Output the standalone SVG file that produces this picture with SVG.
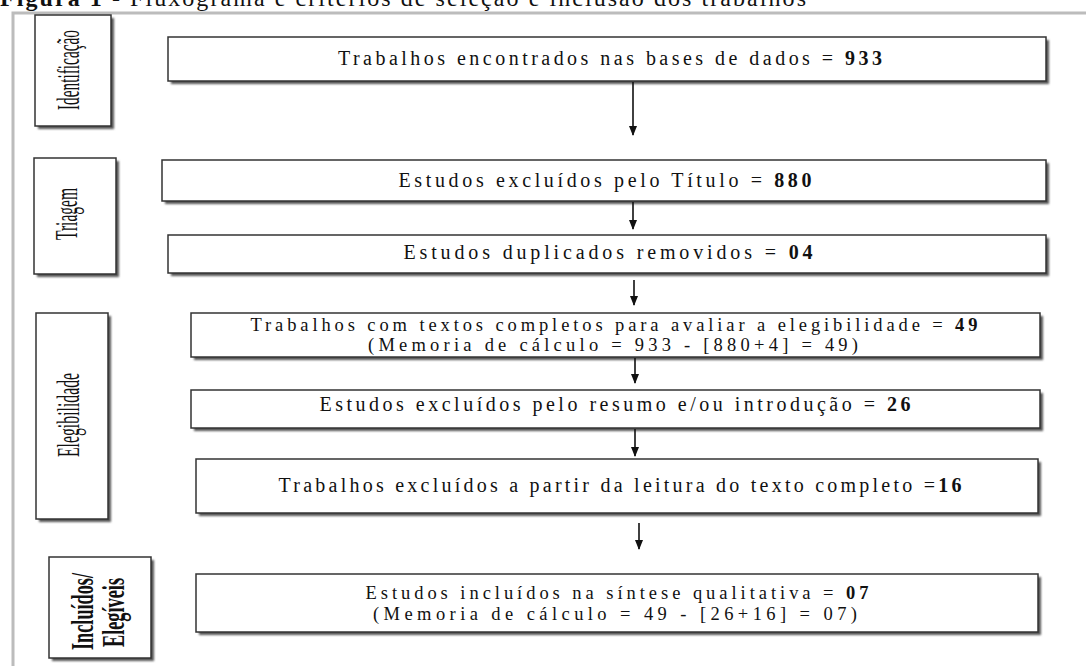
<svg xmlns="http://www.w3.org/2000/svg" width="1086" height="666" viewBox="0 0 1086 666">
<defs>
<style>
.box{fill:#fff;stroke:#333;stroke-width:1.5}
.sh{fill:#555;filter:url(#blur)}
.t{font-family:"Liberation Serif","DejaVu Serif",serif;font-size:20px;fill:#111;text-anchor:middle}
.t2{font-size:18.5px}
.b{font-weight:bold}
.lab{font-family:"Liberation Serif","DejaVu Serif",serif;font-size:32px;fill:#111;text-anchor:middle}
.conn line{stroke:#111;stroke-width:1.6;marker-end:url(#arr)}
</style>
<filter id="blur" x="-10%" y="-10%" width="120%" height="120%"><feGaussianBlur stdDeviation="1"/></filter>
<marker id="arr" markerWidth="10" markerHeight="8" refX="9" refY="4" orient="auto" markerUnits="userSpaceOnUse"><path d="M0,0 L10,4 L0,8 Z" fill="#111"/></marker>
</defs>
<rect width="1086" height="666" fill="#fff"/>
<text x="0" y="6" font-family="Liberation Serif, serif" font-size="24" fill="#111" textLength="806" lengthAdjust="spacing"><tspan font-weight="bold">Figura 1</tspan> - Fluxograma e critérios de seleção e inclusão dos trabalhos</text>
<path d="M13,666 V13 H1086" fill="none" stroke="#bcbcbc" stroke-width="3"/>

<g id="lab-identificacao">
<rect class="sh" x="38" y="18" width="76" height="111"/>
<rect class="box" x="35" y="15" width="76" height="111"/>
<text class="lab" transform="translate(79,70) rotate(-90)" textLength="80" lengthAdjust="spacingAndGlyphs">Identificação</text>
</g>
<g id="lab-triagem">
<rect class="sh" x="37" y="161" width="82" height="116"/>
<rect class="box" x="34" y="158" width="82" height="116"/>
<text class="lab" transform="translate(77,214) rotate(-90)" textLength="52" lengthAdjust="spacingAndGlyphs">Triagem</text>
</g>
<g id="lab-elegibilidade">
<rect class="sh" x="39" y="316" width="72" height="206"/>
<rect class="box" x="36" y="313" width="72" height="206"/>
<text class="lab" transform="translate(79,415) rotate(-90)" textLength="84" lengthAdjust="spacingAndGlyphs">Elegibilidade</text>
</g>
<g id="lab-incluidos">
<rect class="sh" x="52" y="560" width="102" height="101"/>
<rect class="box" x="49" y="557" width="102" height="101"/>
<text class="lab b" font-size="28" transform="translate(93,611.5) rotate(-90)" textLength="77" lengthAdjust="spacingAndGlyphs">Incluídos/</text>
<text class="lab b" font-size="28" transform="translate(124,612.5) rotate(-90)" textLength="69" lengthAdjust="spacingAndGlyphs">Elegíveis</text>
</g>

<g id="n1">
<rect class="sh" x="171" y="40" width="878" height="44"/>
<rect class="box" x="168" y="37" width="878" height="44"/>
<text class="t" x="610" y="65" textLength="544" lengthAdjust="spacing">Trabalhos encontrados nas bases de dados = <tspan class="b">933</tspan></text>
</g>
<g id="n2">
<rect class="sh" x="165" y="163" width="884" height="41"/>
<rect class="box" x="162" y="160" width="884" height="41"/>
<text class="t" x="605" y="187" textLength="413" lengthAdjust="spacing">Estudos excluídos pelo Título = <tspan class="b">880</tspan></text>
</g>
<g id="n3">
<rect class="sh" x="171" y="238" width="878" height="38"/>
<rect class="box" x="168" y="235" width="878" height="38"/>
<text class="t" x="608" y="259" textLength="409" lengthAdjust="spacing">Estudos duplicados removidos = <tspan class="b">04</tspan></text>
</g>
<g id="n4">
<rect class="sh" x="194" y="316" width="849" height="44"/>
<rect class="box" x="191" y="313" width="849" height="44"/>
<text class="t t2" x="614" y="331" textLength="727" lengthAdjust="spacing">Trabalhos com textos completos para avaliar a elegibilidade = <tspan class="b">49</tspan></text>
<text class="t t2" x="613" y="351" textLength="490" lengthAdjust="spacing">(Memoria de cálculo = 933 - [880+4] = 49)</text>
</g>
<g id="n5">
<rect class="sh" x="194" y="393" width="849" height="38"/>
<rect class="box" x="191" y="390" width="849" height="38"/>
<text class="t" x="615" y="411" textLength="591" lengthAdjust="spacing">Estudos excluídos pelo resumo e/ou introdução = <tspan class="b">26</tspan></text>
</g>
<g id="n6">
<rect class="sh" x="199" y="462" width="842" height="54"/>
<rect class="box" x="196" y="459" width="842" height="54"/>
<text class="t" x="620" y="492" textLength="683" lengthAdjust="spacing">Trabalhos excluídos a partir da leitura do texto completo =<tspan class="b">16</tspan></text>
</g>
<g id="n7">
<rect class="sh" x="199" y="577" width="842" height="58"/>
<rect class="box" x="196" y="574" width="842" height="58"/>
<text class="t t2" x="617" y="599" textLength="503" lengthAdjust="spacing">Estudos incluídos na síntese qualitativa = <tspan class="b">07</tspan></text>
<text class="t t2" x="615" y="620" textLength="484" lengthAdjust="spacing">(Memoria de cálculo = 49 - [26+16] = 07)</text>
</g>

<g id="connectors" class="conn">
<line x1="633" y1="82" x2="633" y2="135"/>
<line x1="633" y1="202" x2="633" y2="229"/>
<line x1="634" y1="280" x2="634" y2="305"/>
<line x1="635" y1="358" x2="635" y2="383"/>
<line x1="635" y1="429" x2="635" y2="456"/>
<line x1="639" y1="523" x2="639" y2="549"/>
</g>
</svg>
